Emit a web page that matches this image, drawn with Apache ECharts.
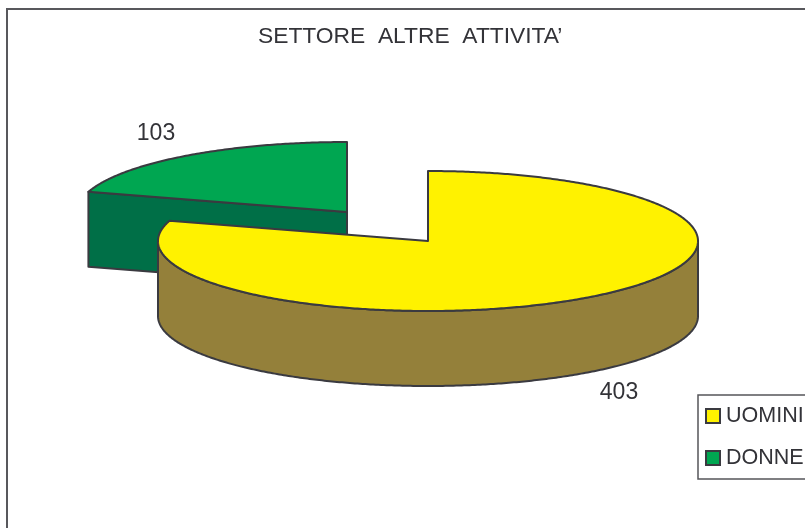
<!DOCTYPE html>
<html>
<head>
<meta charset="utf-8">
<style>
  html, body { margin: 0; padding: 0; background: #fff; }
  #chart-box { width: 805px; height: 528px; }
</style>
<script src="https://cdn.jsdelivr.net/npm/echarts@6/dist/echarts.min.js"></script>
</head>
<body>
<div id="chart-box"></div>
<script>
const categories = ['UOMINI', 'DONNE'];
const values = [403, 103];
const chartTitle = "SETTORE  ALTRE  ATTIVITA’";

const topColors = ['#fff200', '#00a651'];
const sideColors = ['#94803a', '#006f47'];
const lineColor = '#3a3a40';
const textColor = '#333338';
const fontName = '"Liberation Sans", Arial, sans-serif';

// ellipse of the tilted pie, one center per slice because the slices are pulled apart
const rx = 270;
const ry = 70;
const depth = 75;
const centers = [[428, 241], [347, 212]];
const labelPos = [[619, 393], [156, 134]];

const total = values.reduce((a, b) => a + b, 0);

// angle is clockwise from 12 o'clock, in radians
function rimPoint(c, angle) {
  return [c[0] + rx * Math.sin(angle), c[1] - ry * Math.cos(angle)];
}

function arcPoints(c, from, to) {
  const pts = [];
  const steps = Math.max(2, Math.ceil(Math.abs(to - from) / 0.01));
  for (let i = 0; i <= steps; i++) {
    pts.push(rimPoint(c, from + (to - from) * i / steps));
  }
  return pts;
}

function drop(pts) {
  return pts.map(p => [p[0], p[1] + depth]);
}

function shape(points, fill) {
  return {
    type: 'polygon',
    shape: { points: points },
    style: { fill: fill, stroke: lineColor, lineWidth: 2, lineJoin: 'round' }
  };
}

function renderSlice(index) {
  return function (params, api) {
    const value = api.value(0);
    let before = 0;
    for (let i = 0; i < index; i++) before += values[i];
    const start = before / total * Math.PI * 2;
    const end = (before + value) / total * Math.PI * 2;
    const c = centers[index];
    const children = [];

    // the outer wall shows only on the front half of the ellipse
    const wallFrom = Math.max(start, Math.PI / 2);
    const wallTo = Math.min(end, Math.PI * 3 / 2);
    if (wallTo > wallFrom) {
      const rim = arcPoints(c, wallFrom, wallTo);
      children.push(shape(rim.concat(drop(rim).reverse()), sideColors[index]));
    }

    // cut face, visible where the slice starts on the left side
    if (start > Math.PI && start < Math.PI * 2) {
      const edge = [rimPoint(c, start), c];
      children.push(shape(edge.concat(drop(edge).reverse()), sideColors[index]));
    }

    const top = arcPoints(c, start, end);
    top.push(c);
    children.push(shape(top, topColors[index]));

    children.push({
      type: 'text',
      style: {
        text: String(value),
        x: labelPos[index][0],
        y: labelPos[index][1],
        align: 'center',
        verticalAlign: 'middle',
        fill: textColor,
        font: '23px ' + fontName
      }
    });
    return { type: 'group', children: children };
  };
}

const myChart = echarts.init(document.querySelector('#chart-box'), null, { renderer: 'canvas' });

// slices are drawn back to front, so the yellow one goes over the green one
const series = categories.map((name, i) => ({
  name: name,
  type: 'custom',
  coordinateSystem: 'none',
  silent: true,
  z: i === 0 ? 3 : 2,
  itemStyle: { color: topColors[i] },
  renderItem: renderSlice(i),
  data: [[values[i]]]
}));

myChart.setOption({
  animation: false,
  backgroundColor: '#ffffff',
  title: {
    text: chartTitle,
    left: 258,
    top: 25,
    padding: 0,
    textStyle: { fontFamily: fontName, fontSize: 22.8, fontWeight: 'normal', color: textColor }
  },
  legend: {
    orient: 'vertical',
    left: 698,
    top: 395,
    padding: [10, 30, 10, 7],
    itemGap: 20,
    itemWidth: 14,
    itemHeight: 14,
    borderColor: '#55555a',
    borderWidth: 1.5,
    icon: 'rect',
    selectedMode: false,
    textStyle: { fontFamily: fontName, fontSize: 21.5, color: textColor, padding: [0, 0, 0, 1] },
    data: categories.map((name, i) => ({
      name: name,
      itemStyle: { color: topColors[i], borderColor: lineColor, borderWidth: 2 }
    }))
  },
  graphic: [
    {
      type: 'polyline',
      silent: true,
      shape: { points: [[7, 528], [7, 9], [805, 9]] },
      style: { fill: null, stroke: '#58585c', lineWidth: 2 }
    }
  ],
  series: series
});
</script>
</body>
</html>
